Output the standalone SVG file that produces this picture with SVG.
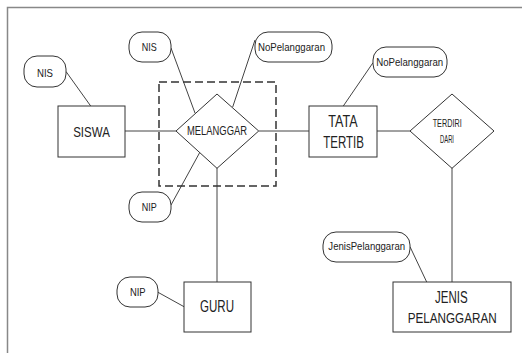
<svg xmlns="http://www.w3.org/2000/svg" width="522" height="353" viewBox="0 0 522 353">
<style>
.box{fill:#fff;stroke:#333;stroke-width:1}
.attr{fill:#fff;stroke:#333;stroke-width:1}
.ln{stroke:#444;stroke-width:1;fill:none}
text{font-family:"Liberation Sans",Arial,sans-serif;fill:#222;text-anchor:middle}
.a{font-size:11.5px}
.d{font-size:12px}
.e{font-size:16px}
</style>
<rect x="0" y="0" width="522" height="353" fill="#fff"/>
<path d="M7.5,353 V7.5 H522" fill="none" stroke="#888" stroke-width="1.5"/>
<g id="connectors">
<line class="ln" x1="66" y1="71.5" x2="90.7" y2="106"/>
<line class="ln" x1="125" y1="131" x2="176" y2="131"/>
<line class="ln" x1="171" y1="48" x2="195" y2="113"/>
<line class="ln" x1="255" y1="40" x2="232.7" y2="107"/>
<line class="ln" x1="171" y1="205" x2="200" y2="152"/>
<line class="ln" x1="217" y1="168" x2="217" y2="282"/>
<line class="ln" x1="158" y1="292.3" x2="184" y2="306.7"/>
<line class="ln" x1="258.7" y1="131" x2="309" y2="131"/>
<line class="ln" x1="373" y1="62.7" x2="343.3" y2="106"/>
<line class="ln" x1="377" y1="131" x2="410" y2="131"/>
<line class="ln" x1="452" y1="168" x2="452" y2="282"/>
<line class="ln" x1="410" y1="246.7" x2="426.7" y2="282"/>
</g>
<g id="aggregation">
<rect x="159" y="82" width="117" height="104" fill="none" stroke="#333" stroke-width="1.5" stroke-dasharray="8,4"/>
</g>
<g id="attr-nis-siswa">
<rect class="attr" x="24" y="56" width="42" height="31" rx="13"/>
<text class="a" x="45" y="76.5" textLength="16" lengthAdjust="spacingAndGlyphs">NIS</text>
</g>
<g id="siswa">
<rect class="box" x="58" y="106" width="67" height="51"/>
<text x="91.5" y="136.7" font-size="15" textLength="36.7" lengthAdjust="spacingAndGlyphs">SISWA</text>
</g>
<g id="attr-nis-melanggar">
<rect class="attr" x="129" y="32" width="42" height="30" rx="13"/>
<text class="a" x="149.2" y="51" textLength="15" lengthAdjust="spacingAndGlyphs">NIS</text>
</g>
<g id="attr-nopel-melanggar">
<rect class="attr" x="255" y="32" width="77" height="30" rx="13"/>
<text class="a" x="291.5" y="50.7" textLength="67" lengthAdjust="spacingAndGlyphs">NoPelanggaran</text>
</g>
<g id="melanggar">
<polygon class="box" points="176,131 217,94 258.7,131 217,168.3"/>
<text class="d" x="217" y="135" textLength="60" lengthAdjust="spacingAndGlyphs">MELANGGAR</text>
</g>
<g id="attr-nip-melanggar">
<rect class="attr" x="129" y="192" width="42" height="30" rx="13"/>
<text class="a" x="149.2" y="210.7" textLength="15" lengthAdjust="spacingAndGlyphs">NIP</text>
</g>
<g id="guru">
<rect class="box" x="184" y="282" width="67" height="50"/>
<text class="e" x="217" y="311.7" textLength="34" lengthAdjust="spacingAndGlyphs">GURU</text>
</g>
<g id="attr-nip-guru">
<rect class="attr" x="117" y="277" width="41" height="30" rx="13"/>
<text class="a" x="137.8" y="296" textLength="15.7" lengthAdjust="spacingAndGlyphs">NIP</text>
</g>
<g id="tata-tertib">
<rect class="box" x="309" y="106" width="68" height="51"/>
<text class="e" x="343" y="126.7" textLength="29.3" lengthAdjust="spacingAndGlyphs">TATA</text>
<text class="e" x="343.6" y="148.3" textLength="40.7" lengthAdjust="spacingAndGlyphs">TERTIB</text>
</g>
<g id="attr-nopel-tatatertib">
<rect class="attr" x="373" y="47" width="74" height="30" rx="13"/>
<text class="a" x="409.7" y="66" textLength="67" lengthAdjust="spacingAndGlyphs">NoPelanggaran</text>
</g>
<g id="terdiri-dari">
<polygon class="box" points="410,131 452,94 494,131 452,168.3"/>
<text class="a" x="447.2" y="127.3" textLength="29" lengthAdjust="spacingAndGlyphs">TERDIRI</text>
<text class="a" x="447" y="143.3" textLength="14" lengthAdjust="spacingAndGlyphs">DARI</text>
</g>
<g id="attr-jenispel">
<rect class="attr" x="323" y="232" width="87" height="30" rx="13"/>
<text class="a" x="366.7" y="250" textLength="76.7" lengthAdjust="spacingAndGlyphs">JenisPelanggaran</text>
</g>
<g id="jenis-pelanggaran">
<rect class="box" x="393" y="282" width="118" height="50"/>
<text class="e" x="451.3" y="303.3" textLength="32.7" lengthAdjust="spacingAndGlyphs">JENIS</text>
<text x="452.2" y="323.3" font-size="14.5" textLength="89" lengthAdjust="spacingAndGlyphs">PELANGGARAN</text>
</g>
</svg>
